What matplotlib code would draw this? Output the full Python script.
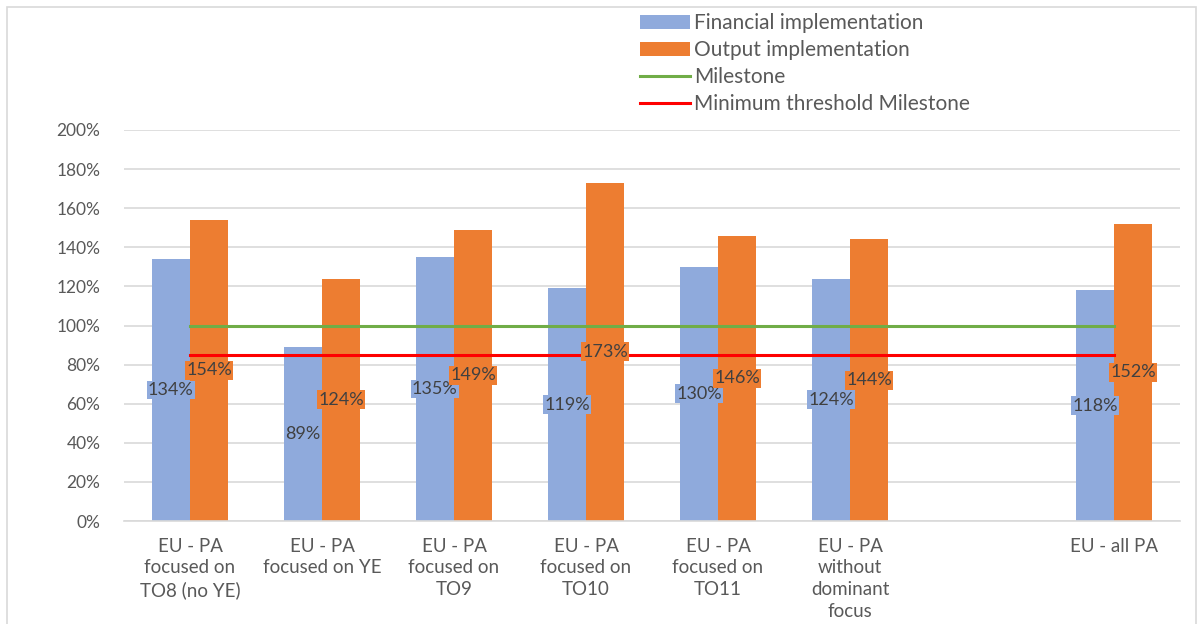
import matplotlib.pyplot as plt
import numpy as np
from matplotlib.patches import Rectangle

# datos
categorias = ['EU - PA\nfocused on\nTO8 (no YE)', 'EU - PA\nfocused on YE',
              'EU - PA\nfocused on\nTO9', 'EU - PA\nfocused on\nTO10',
              'EU - PA\nfocused on\nTO11', 'EU - PA\nwithout\ndominant\nfocus',
              '', 'EU - all PA']
financiero = [134, 89, 135, 119, 130, 124, np.nan, 118]
producto = [154, 124, 149, 173, 146, 144, np.nan, 152]
hito = [100] * 8
umbral = [85] * 8
yticks = list(range(0, 201, 20))

azul = '#8faadc'
naranja = '#ed7d31'
gris = '#595959'

plt.rcParams['font.family'] = ['Lato', 'DejaVu Sans']

fig = plt.figure(figsize=(12.03, 6.24), dpi=100)
ax = fig.add_axes([124 / 1203, 1 - 521 / 624, 1056 / 1203, 391 / 624])

x = np.arange(len(categorias))
w = 0.29
b1 = ax.bar(x - w / 2, financiero, w, color=azul, label='Financial implementation', zorder=2)
b2 = ax.bar(x + w / 2, producto, w, color=naranja, label='Output implementation', zorder=2)
l1, = ax.plot(x, hito, color='#70ad47', lw=2.2, label='Milestone', zorder=3)
l2, = ax.plot(x, umbral, color='#ff0000', lw=2.2, label='Minimum threshold Milestone', zorder=3)

# etiquetas en el centro de cada barra
for xs, vals, col in [(x - w / 2, financiero, azul), (x + w / 2, producto, naranja)]:
    for xi, v in zip(xs, vals):
        if np.isnan(v):
            continue
        ax.text(xi, v / 2, '%d%%' % v, ha='center', va='center', fontsize=13,
                color='#404040', zorder=4,
                bbox=dict(boxstyle='square,pad=0.08', fc=col, ec='none'))

ax.set_xlim(-0.5, 7.5)
ax.set_ylim(0, 200)
ax.set_yticks(yticks)
ax.set_yticklabels(['%d%%' % t for t in yticks], fontsize=12.5, color=gris)
ax.set_xticks(x)
ax.set_xticklabels(categorias, fontsize=13.5, color=gris, linespacing=1.33, va='top')
ax.tick_params(length=0, pad=12)
ax.tick_params(axis='y', pad=17)
ax.yaxis.grid(True, color='#d9d9d9', lw=1.2, zorder=0)
for s in ['top', 'right', 'left']:
    ax.spines[s].set_visible(False)
ax.spines['bottom'].set_color('#d9d9d9')
ax.spines['bottom'].set_linewidth(1.2)

fig.legend(handles=[b1, b2, l1, l2], loc='upper left', bbox_to_anchor=(632 / 1203, 1 - 5 / 624),
           frameon=False, fontsize=15, labelcolor=gris, handlelength=2.4, handleheight=0.65,
           handletextpad=0.2, labelspacing=0.33, borderaxespad=0)

# marco del grafico
fig.patches.append(Rectangle((7 / 1203, -0.1), 1189 / 1203, 1.1 - 7 / 624, transform=fig.transFigure,
                             fill=False, ec='#d9d9d9', lw=1.2))

plt.savefig('out.png', dpi=100)
